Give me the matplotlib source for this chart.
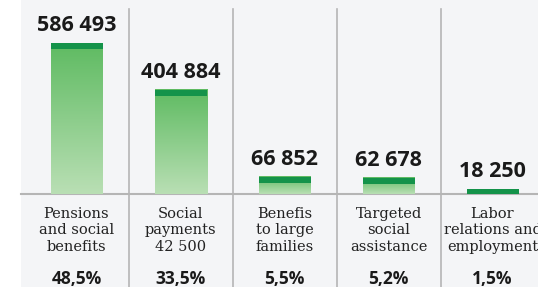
import numpy as np
import matplotlib
matplotlib.use("Agg")
from matplotlib import pyplot as plt
from matplotlib import transforms

categories = ["Pensions\nand social\nbenefits", "Social\npayments\n42 500",
              "Benefis\nto large\nfamilies", "Targeted\nsocial\nassistance",
              "Labor\nrelations and\nemployment"]
values = [586493, 404884, 66852, 62678, 18250]
value_labels = ["586 493", "404 884", "66 852", "62 678", "18 250"]
shares = ["48,5%", "33,5%", "5,5%", "5,2%", "1,5%"]

W, H = 538, 287
fig = plt.figure(figsize=(W / 100, H / 100), dpi=100)
fig.patch.set_facecolor("white")

# gray panel behind everything
bg = fig.add_axes([21 / W, 0, 1 - 21 / W, 1])
bg.set_facecolor("#f4f5f7")
bg.set_xticks([])
bg.set_yticks([])
for s in bg.spines.values():
    s.set_visible(False)

base_px = 194
ax = fig.add_axes([21 / W, (H - base_px) / H, 1 - 21 / W, base_px / H])
ax.set_facecolor("none")
ymax = max(values) * base_px / 151
ax.axis("off")

band = 6 * ymax / base_px
grad = np.linspace(0, 1, 100).reshape(-1, 1)
cmap = matplotlib.colors.LinearSegmentedColormap.from_list("g", ["#b9dfb4", "#5fbb62"])
w = 0.5
for i, v in enumerate(values):
    ax.imshow(grad, cmap=cmap, extent=(i - w / 2, i + w / 2, 0, v), origin="lower",
              aspect="auto", zorder=2)
    ax.bar(i, min(band, v), bottom=max(v - band, 0), width=w, color="#14934a", zorder=3)
    ax.annotate(value_labels[i], (i, v), xytext=(0, 5), textcoords="offset points",
                ha="center", va="bottom", fontsize=15.5, fontweight="bold",
                family="Open Sans", color="#1a1a1a")

xl = (-(76.5 - 21) / 104, (538 - 76.5) / 104)
trans = transforms.blended_transform_factory(ax.transData, fig.transFigure)
for i in range(len(values) - 1):
    ax.plot([i + 0.5, i + 0.5], [0, 1 - 9 / H], transform=trans, color="#b5b5b5",
            lw=1.2, clip_on=False, zorder=1)
ax.plot(list(xl), [0, 0], color="#b5b5b5", lw=1.5, clip_on=False, zorder=1)
ax.set_xlim(*xl)
ax.set_ylim(0, ymax)

for i, c in enumerate(categories):
    ax.text(i, 1 - 207 / H, c, transform=trans, ha="center", va="top", fontsize=10.5,
            family="DejaVu Serif", linespacing=1.22, color="#222222")
    ax.text(i, 1 - 279 / H, shares[i], transform=trans, ha="center", va="center",
            fontsize=12.5, fontweight="bold", family="Open Sans", color="#1a1a1a")

fig.savefig("out.png", dpi=100)
